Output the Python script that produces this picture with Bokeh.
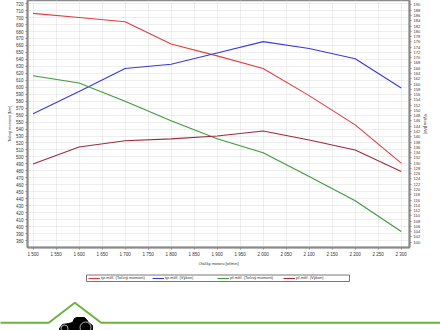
from bokeh.plotting import figure
from bokeh.models import LinearAxis, Range1d, Legend, LegendItem, FixedTicker
from bokeh.layouts import column, row
from bokeh.embed import file_html
from bokeh.resources import INLINE

# ---- data ----
rpm = [1500, 1600, 1700, 1800, 1900, 2000, 2100, 2200, 2300]
torque_typ = [706, 700, 694, 662, 645, 627, 588, 546, 491]
power_typ = [148.7, 157.2, 165.9, 167.5, 171.8, 176.1, 173.5, 169.6, 158.5]
torque_pr = [616.5, 606, 580, 552, 526, 506, 472, 437, 393]
power_pr = [129.7, 136.1, 138.5, 139.2, 140.3, 142.2, 138.8, 135.0, 126.8]

x_ticks = [1500, 1550, 1600, 1650, 1700, 1750, 1800, 1850, 1900, 1950,
           2000, 2050, 2100, 2150, 2200, 2250, 2300]
x_tick_labels = ["1 500", "1 550", "1 600", "1 650", "1 700", "1 750", "1 800",
                 "1 850", "1 900", "1 950", "2 000", "2 050", "2 100", "2 150",
                 "2 200", "2 250", "2 300"]
left_ticks = list(range(380, 721, 10))
right_ticks = list(range(100, 191, 2))

series_labels = ["tyr.měř. (Točivý moment)", "tyr.měř. (Výkon)",
                 "př.měř. (Točivý moment)", "př.měř. (Výkon)"]

FONT = "Liberation Sans"
RED = "#e23c3f"
BLUE = "#3a3ad6"
GREEN = "#3d9a3d"
DRED = "#9e2a3c"
COLORS = [RED, BLUE, GREEN, DRED]

p = figure(width=440, height=268, output_backend="svg", toolbar_location=None,
           x_range=Range1d(1488, 2318), y_range=Range1d(370, 724.5),
           min_border_left=27, min_border_right=31, min_border_top=0,
           min_border_bottom=14, background_fill_color="white",
           border_fill_color="white")
p.extra_y_ranges = {"kw": Range1d(98, 191.7)}

p.line(rpm, torque_typ, line_color=RED, line_width=1.1)
p.line(rpm, power_typ, line_color=BLUE, line_width=1.1, y_range_name="kw")
p.line(rpm, torque_pr, line_color=GREEN, line_width=1.1)
p.line(rpm, power_pr, line_color=DRED, line_width=1.1, y_range_name="kw")

raxis = LinearAxis(y_range_name="kw", ticker=FixedTicker(ticks=right_ticks),
                   axis_label="Výkon [kW]")
p.add_layout(raxis, "right")

p.xaxis.ticker = FixedTicker(ticks=x_ticks)
p.xaxis.major_label_overrides = dict(zip(x_ticks, x_tick_labels))
p.xaxis.axis_label = "Otáčky motoru [ot/min]"
p.yaxis[0].ticker = FixedTicker(ticks=left_ticks)
p.yaxis[0].axis_label = "Točivý moment [Nm]"

for ax in p.axis:
    ax.axis_line_color = "#8a8a8a"
    ax.axis_line_width = 2
    ax.major_tick_line_color = "#8a8a8a"
    ax.major_tick_out = 2
    ax.major_tick_in = 0
    ax.minor_tick_line_color = None
    ax.major_label_text_font = FONT
    ax.major_label_text_font_size = "4.5px"
    ax.major_label_text_color = "#333333"
    ax.major_label_standoff = 2
    ax.axis_label_text_font = FONT
    ax.axis_label_text_font_size = "4px"
    ax.axis_label_text_font_style = "normal"
    ax.axis_label_text_color = "#333333"
    ax.axis_label_standoff = 1
raxis.major_label_text_font_size = "4px"
raxis.axis_label_standoff = 0

p.xgrid.grid_line_color = "#dcdcdc"
p.xgrid.grid_line_dash = "1 1"
p.ygrid.grid_line_color = "#dcdcdc"
p.ygrid.grid_line_dash = "1 1"
p.outline_line_color = "#8a8a8a"
p.outline_line_width = 1.5

# ---- footer: legend, green roof line and tractor logo ----
d = figure(width=440, height=62, output_backend="svg", toolbar_location=None,
           x_range=Range1d(0, 440), y_range=Range1d(0, 62),
           x_axis_type=None, y_axis_type=None, min_border=0,
           min_border_left=0, min_border_right=0, min_border_top=0, min_border_bottom=0,
           outline_line_color=None, background_fill_color="white",
           border_fill_color="white")
d.grid.visible = False

# legend frame
d.quad(left=[86], right=[349], bottom=[49], top=[55.5], fill_color=None,
       line_color="#555555", line_width=0.8)

swatches = [d.line([-50, -40], [-50, -40], line_color=c, line_width=1.1) for c in COLORS]
legend_x = [88, 152, 217, 283]
for lab, r, lx in zip(series_labels, swatches, legend_x):
    lg = Legend(items=[LegendItem(label=lab, renderers=[r])], location=(lx, 50))
    lg.label_text_font = FONT
    lg.label_text_font_size = "4px"
    lg.label_text_color = "#333333"
    lg.label_height = 4
    lg.label_standoff = 1
    lg.glyph_width = 12
    lg.glyph_height = 4
    lg.padding = 0
    lg.margin = 0
    lg.border_line_color = None
    lg.background_fill_alpha = 0
    d.add_layout(lg)

d.line([-5, 48.3, 74.3, 100.7, 445], [7.7, 7.7, 27.7, 7.7, 7.7],
       line_color="#6bb23f", line_width=2)
# tractor silhouette
d.patch([59, 62, 68, 72, 74, 76, 84, 86, 88, 92, 92, 59],
        [2, 6, 7, 8, 12, 13, 13, 11, 8, 5, 0, 0],
        fill_color="black", line_color="black")
d.circle([64, 85], [2, 3], radius=[3.5, 5.5], fill_color="black",
         line_color="white", line_width=0.7)

open("out.html", "w").write(file_html(column(p, row(d)), INLINE))
